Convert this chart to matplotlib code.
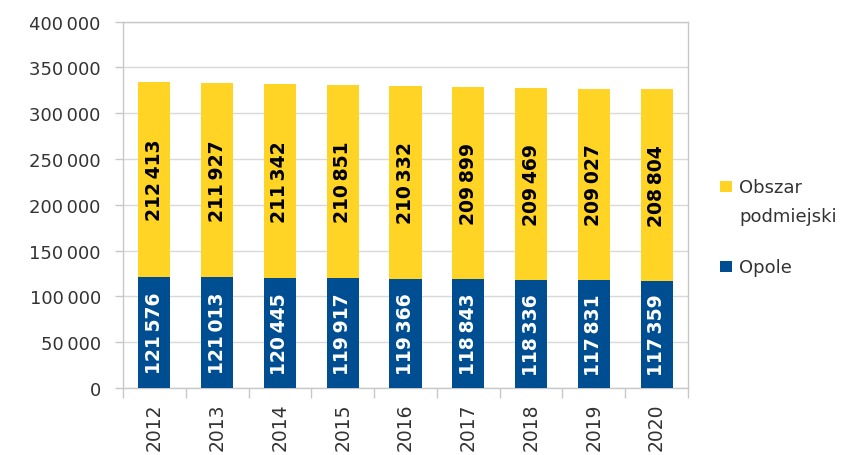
import matplotlib
matplotlib.use("Agg")
import matplotlib.pyplot as plt
from matplotlib.patches import Rectangle
from matplotlib.ticker import FuncFormatter, MultipleLocator, FixedLocator

years = ["2012", "2013", "2014", "2015", "2016", "2017", "2018", "2019", "2020"]
opole = [121576, 121013, 120445, 119917, 119366, 118843, 118336, 117831, 117359]
obszar = [212413, 211927, 211342, 210851, 210332, 209899, 209469, 209027, 208804]
legend_labels = ["Obszar", "podmiejski", "Opole"]

BLUE = "#004E92"
YELLOW = "#FFD424"
GRID = "#D9D9D9"
SPINE = "#C8C8C8"
TXT = "#333333"

plt.rcParams["font.family"] = ["DejaVu Sans"]

W, H = 843, 456
fig = plt.figure(figsize=(W / 100, H / 100), dpi=100)
ax = fig.add_axes([123 / W, 1 - 389 / H, (688 - 123) / W, (389 - 22.7) / H])


def fmt(v):
    return f"{int(v):,}".replace(",", "\u2009")


x = list(range(len(years)))
bw = 0.51
ax.bar(x, opole, width=bw, color=BLUE, zorder=3)
ax.bar(x, obszar, width=bw, bottom=opole, color=YELLOW, zorder=3)

for xi, v1, v2 in zip(x, opole, obszar):
    ax.text(xi, v1 / 2, fmt(v1), rotation=90, ha="center", va="center",
            color="white", fontsize=13.5, fontweight="bold", zorder=4)
    ax.text(xi, v1 + v2 / 2, fmt(v2), rotation=90, ha="center", va="center",
            color="black", fontsize=13.5, fontweight="bold", zorder=4)

ax.set_xlim(-0.5, len(years) - 0.5)
ax.set_ylim(0, 400000)
ax.yaxis.set_major_locator(MultipleLocator(50000))
ax.yaxis.set_major_formatter(FuncFormatter(lambda v, p: fmt(v)))
ax.grid(axis="y", color=GRID, linewidth=1, zorder=0)

ax.set_xticks(x)
ax.set_xticklabels(years, rotation=90, fontsize=13.5, color=TXT, va="top")
ax.xaxis.set_minor_locator(FixedLocator([i - 0.5 for i in range(len(years) + 1)]))
ax.tick_params(axis="x", which="major", length=0, pad=10.5)
ax.tick_params(axis="x", which="minor", length=7, color=SPINE, width=1)
ax.tick_params(axis="y", which="major", length=6, color=SPINE, width=1,
               labelsize=13, labelcolor=TXT, pad=10)

for s in ax.spines.values():
    s.set_color(SPINE)
    s.set_linewidth(1)


def fx(px):
    return px / W


def fy(py):
    return 1 - py / H


# legend drawn manually to match the reference layout
for col, top in [(YELLOW, 182), (BLUE, 262)]:
    fig.patches.append(Rectangle((fx(720), fy(top + 11)), 12 / W, 11 / H,
                                 transform=fig.transFigure, facecolor=col,
                                 edgecolor="none"))

fig.text(fx(739), fy(188), legend_labels[0], fontsize=13, color=TXT, ha="left", va="center")
fig.text(fx(739), fy(217), legend_labels[1], fontsize=13, color=TXT, ha="left", va="center")
fig.text(fx(739), fy(268), legend_labels[2], fontsize=13, color=TXT, ha="left", va="center")

fig.savefig("out.png", dpi=100)
